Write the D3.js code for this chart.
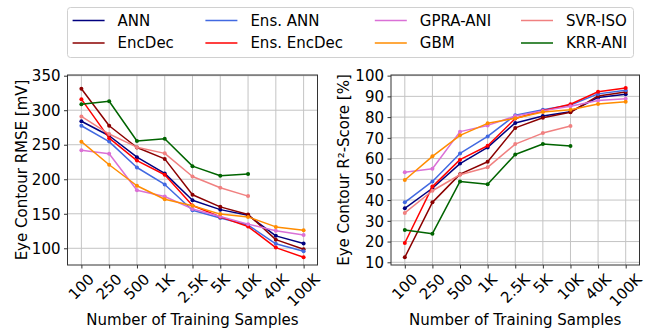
<!DOCTYPE html>
<html><head><meta charset="utf-8">
<script src="https://cdn.jsdelivr.net/npm/d3@7"></script>
<style>
html,body{margin:0;padding:0;background:#fff;}
text{font-family:"DejaVu Sans",sans-serif;fill:#000;}
</style></head>
<body>
<svg id="chart" width="671" height="331"></svg>
<script>
const categories = ["100","250","500","1K","2.5K","5K","10K","40K","100K"];
const seriesNames = ["ANN","EncDec","Ens. ANN","Ens. EncDec","GPRA-ANI","GBM","SVR-ISO","KRR-ANI"];
const seriesColors = ["#00007f","#8b0000","#4169e1","#ff0000","#da70d6","#ff8c00","#f08080","#006400"];

// Eye Contour RMSE [mV]
const rmseANN       = [284, 263, 232, 208.5, 169.5, 156, 148, 118, 107];
const rmseEncDec    = [331, 277.5, 246, 229.5, 177.5, 160, 149, 112.5, 98.5];
const rmseEnsANN    = [277.5, 254.5, 217, 192.5, 155, 144, 133.6, 106.5, 95.7];
const rmseEnsEncDec = [316, 259.5, 227, 206.5, 162, 145.5, 131.5, 101, 87];
const rmseGPRA      = [242, 237, 184, 175, 157, 146, 135, 125.4, 119.3];
const rmseGBM       = [254.4, 221, 190.6, 171, 161.6, 149.5, 145.5, 131, 126];
const rmseSVR       = [291, 265.5, 246.5, 237.5, 204, 187.7, 175.6];
const rmseKRR       = [308.5, 313, 255.4, 258.7, 219, 205, 207.5];

// Eye Contour R2-Score [%]
const r2ANN       = [36, 45.7, 57.6, 65.4, 77.2, 80.5, 82.6, 89.5, 91];
const r2EncDec    = [12.4, 38.9, 52.5, 58.5, 74.8, 79.7, 82.3, 90.2, 92.1];
const r2EnsANN    = [38.9, 49, 62.5, 70.7, 80.9, 83.6, 85.8, 91.2, 93];
const r2EnsEncDec = [19.3, 46.5, 59.5, 66.2, 79.3, 83.1, 86.2, 92.2, 94];
const r2GPRA      = [53.4, 55.1, 73, 76, 80.5, 83, 85.2, 88, 88.8];
const r2GBM       = [49.7, 61.1, 71.2, 77, 79.4, 82.5, 83.5, 86.3, 87.4];
const r2SVR       = [33.8, 44.5, 52.2, 55.8, 67, 72.3, 75.7];
const r2KRR       = [25.6, 23.8, 49, 47.6, 62, 67, 66.1];

const rmseTicks = [100,150,200,250,300,350];
const r2Ticks = [10,20,30,40,50,60,70,80,90,100];

const rmseSeries = [rmseANN,rmseEncDec,rmseEnsANN,rmseEnsEncDec,rmseGPRA,rmseGBM,rmseSVR,rmseKRR];
const r2Series = [r2ANN,r2EncDec,r2EnsANN,r2EnsEncDec,r2GPRA,r2GBM,r2SVR,r2KRR];

const svg = d3.select("#chart");
const FS = 15;

function panel(opts){
  const {x0,x1,y0,y1,domain,ticks,data,label,labelX} = opts;
  const g = svg.append("g");
  const x = d3.scaleLinear().domain([-0.5, categories.length-0.5]).range([x0,x1]);
  const y = d3.scaleLinear().domain(domain).range([y1,y0]);
  // grid
  g.append("g").selectAll("line.v").data(categories).join("line")
    .attr("x1",(d,i)=>x(i)).attr("x2",(d,i)=>x(i)).attr("y1",y0).attr("y2",y1)
    .attr("stroke","#c4c4c4").attr("stroke-width",1);
  g.append("g").selectAll("line.h").data(ticks).join("line")
    .attr("x1",x0).attr("x2",x1).attr("y1",d=>y(d)).attr("y2",d=>y(d))
    .attr("stroke","#c4c4c4").attr("stroke-width",1);
  // y axis
  const ya = g.append("g").attr("transform",`translate(${x0},0)`)
    .call(d3.axisLeft(y).tickValues(ticks).tickSize(3.5).tickPadding(3.5).tickFormat(d3.format("d")));
  ya.select(".domain").remove();
  ya.selectAll("line").attr("stroke","#333");
  ya.selectAll("text").attr("font-size",FS).attr("font-family","DejaVu Sans").attr("dy","0.35em");
  // x axis ticks
  const xa = g.append("g").attr("transform",`translate(0,${y1})`)
    .call(d3.axisBottom(x).tickValues(d3.range(categories.length)).tickSize(3.5).tickFormat(""));
  xa.select(".domain").remove();
  xa.selectAll("line").attr("stroke","#333");
  // rotated tick labels, centred on tick
  categories.forEach((c,i)=>{
    const t = g.append("text").text(c).attr("font-size",FS)
      .attr("text-anchor","middle").attr("dominant-baseline","central");
    const w = t.node().getComputedTextLength();
    const h = FS*0.8;
    const cy = y1 + 7.5 + (w + h)*0.3536;
    t.attr("transform",`translate(${x(i)},${cy}) rotate(-45)`);
  });
  // lines
  data.forEach((vals,si)=>{
    const line = d3.line().x((d,i)=>x(i)).y(d=>y(d));
    g.append("path").datum(vals).attr("d",line).attr("fill","none")
      .attr("stroke",seriesColors[si]).attr("stroke-width",1.5).attr("stroke-linejoin","round");
    g.append("g").selectAll("circle").data(vals).join("circle")
      .attr("cx",(d,i)=>x(i)).attr("cy",d=>y(d)).attr("r",2)
      .attr("fill",seriesColors[si]);
  });
  // frame
  g.append("rect").attr("x",x0).attr("y",y0).attr("width",x1-x0).attr("height",y1-y0)
    .attr("fill","none").attr("stroke","#333").attr("stroke-width",1);
  // axis labels
  g.append("text").text("Number of Training Samples").attr("font-size",FS)
    .attr("text-anchor","middle").attr("x",(x0+x1)/2).attr("y",325);
  g.append("text").text(label).attr("font-size",FS).attr("text-anchor","middle")
    .attr("transform",`translate(${labelX},${(y0+y1)/2}) rotate(-90)`);
}

panel({x0:67.5,x1:317.5,y0:75,y1:265,domain:[75.8,351],ticks:rmseTicks,data:rmseSeries,
  label:"Eye Contour RMSE [mV]",labelX:27});
panel({x0:391,x1:639.5,y0:75,y1:265,domain:[8.7,100.3],ticks:r2Ticks,data:r2Series,
  label:"Eye Contour R²-Score [%]",labelX:349});

// legend
const leg = svg.append("g");
leg.append("rect").attr("x",67.5).attr("y",7.5).attr("width",566).attr("height",50)
  .attr("rx",3).attr("fill","#fff").attr("fill-opacity",0.8).attr("stroke","#d0d0d0").attr("stroke-width",1);
const colX = [72.6, 205.4, 374.8, 521];
const rowY = [20.5, 43];
seriesNames.forEach((n,i)=>{
  const col = Math.floor(i/2), row = i%2;
  leg.append("line").attr("x1",colX[col]).attr("x2",colX[col]+32)
    .attr("y1",rowY[row]).attr("y2",rowY[row]).attr("stroke",seriesColors[i]).attr("stroke-width",1.5);
  leg.append("text").text(n).attr("font-size",FS).attr("x",colX[col]+45).attr("y",rowY[row])
    .attr("dominant-baseline","central");
});
</script>
</body></html>
